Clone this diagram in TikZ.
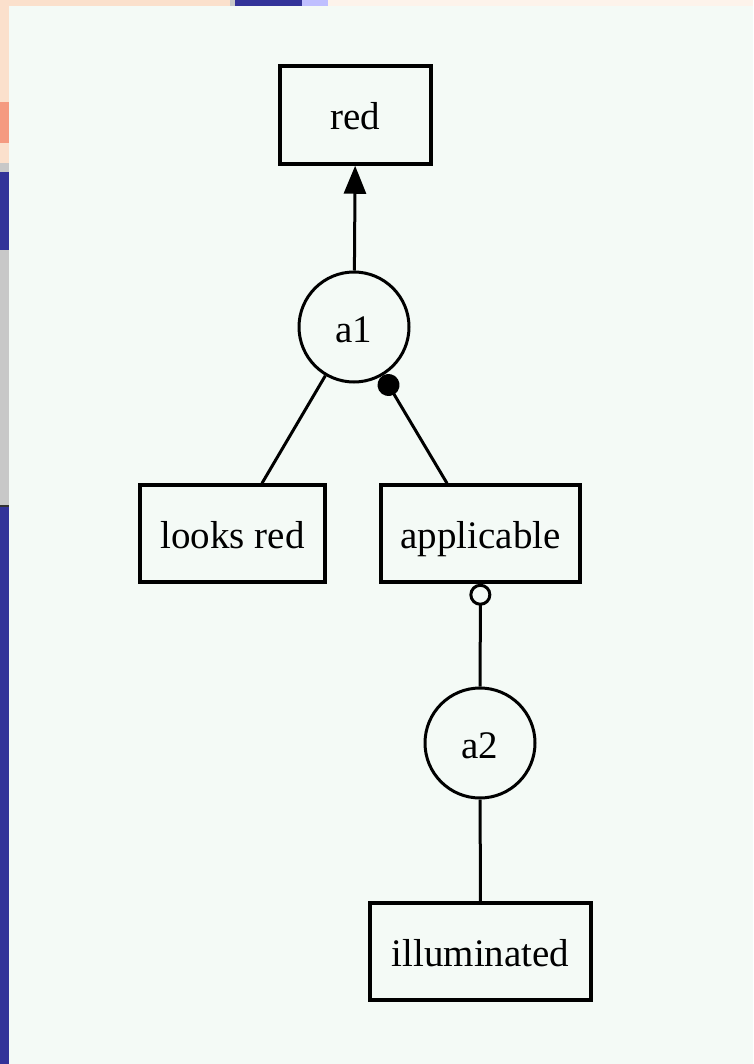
\documentclass[tikz,border=0pt]{standalone}
\usepackage{fontspec}
\setmainfont{Liberation Serif}
\usetikzlibrary{arrows.meta}
\definecolor{bg}{HTML}{F4FAF6}
\definecolor{peach}{HTML}{FBE0CC}
\definecolor{navy}{HTML}{333399}
\definecolor{panel}{HTML}{C8C8C8}
\definecolor{salmon}{HTML}{F59A80}
\tikzset{
  lbl/.style={font=\fontsize{39}{41}\selectfont, text height=34pt, text depth=4pt},
  boxnode/.style={draw, line width=3.5pt, inner sep=0pt, lbl},
  argnode/.style={draw, circle, line width=3pt, minimum size=110pt, inner sep=0pt, lbl},
  conn/.style={line width=3pt},
}
\begin{document}
\begin{tikzpicture}[x=1pt,y=-1pt]
\useasboundingbox (0,0) rectangle (753,1064);
% background and screenshot remnants
\fill[bg] (0,0) rectangle (753,1064);
\fill[peach] (0,0) rectangle (230,6);
\fill[panel] (230,0) rectangle (235,6);
\fill[navy] (235,0) rectangle (302,6);
\fill[blue!25] (302,0) rectangle (328,6);
\fill[peach!40] (328,0) rectangle (753,6);
\fill[peach] (0,0) rectangle (9,163);
\fill[salmon] (0,102) rectangle (9,143);
\fill[panel] (0,163) rectangle (9,172);
\fill[navy] (0,172) rectangle (9,250);
\fill[panel] (0,250) rectangle (9,505);
\fill[black!80] (0,505) rectangle (9,507);
\fill[navy] (0,507) rectangle (9,1064);
% nodes
\node[boxnode, minimum width=151pt, minimum height=98pt] (red) at (355.5,115) {red};
\node[argnode] (a1) at (354,327) {a1};
\node[boxnode, minimum width=185pt, minimum height=97pt] (looks) at (232.5,533.5) {looks red};
\node[boxnode, minimum width=199pt, minimum height=97pt] (appl) at (480.5,533.5) {applicable};
\node[argnode] (a2) at (480,743) {a2};
\node[boxnode, minimum width=221pt, minimum height=97pt] (illum) at (480.5,951.5) {illuminated};
% connectors
\draw[conn, -{Triangle[length=28pt,width=22pt]}] (a1) -- (red);
\draw[conn] ([xshift=29.5pt]looks.north) -- (a1);
\draw[conn, -{Circle[length=22pt]}] ([xshift=-33.5pt]appl.north) -- (a1);
\draw[conn, -{Circle[open,length=22pt,line width=3pt]}] (a2) -- (appl);
\draw[conn] (a2) -- (illum);
\end{tikzpicture}
\end{document}
